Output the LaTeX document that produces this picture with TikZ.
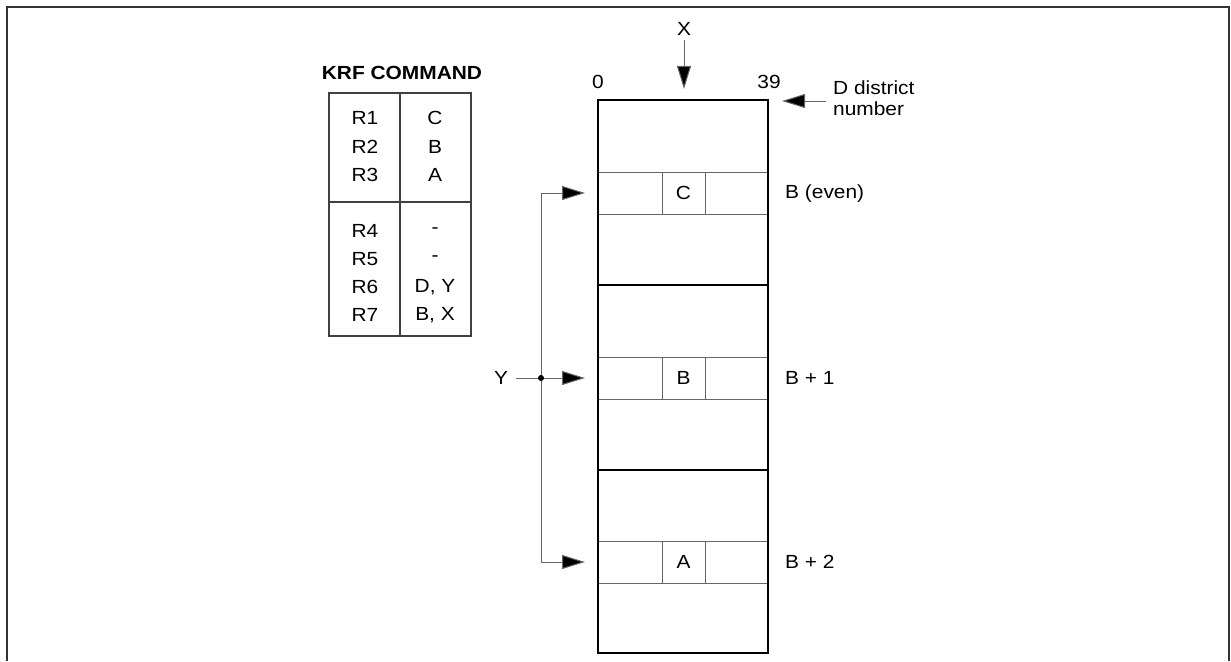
\documentclass[tikz,border=0pt]{standalone}
\usepackage{fontspec}
\setmainfont{Liberation Sans}[FakeStretch=1.1]
\usetikzlibrary{arrows.meta}
\begin{document}
\begin{tikzpicture}[x=1pt,y=-1pt,
  every node/.style={inner sep=0pt,font=\fontsize{19}{22}\selectfont},
  thinln/.style={draw=black!60,line width=1pt},
  thickln/.style={draw=black,line width=2.3pt},
  tbl/.style={draw=black!75,line width=1.4pt},
  arr/.style={draw=black!60,line width=1pt,-{Triangle[length=23pt,width=14pt,fill=black]}},
  cell/.style={minimum width=43pt,minimum height=42pt},
  lbl/.style={anchor=west}]
\useasboundingbox (0,0) rectangle (1231,661);
% outer frame
\draw[line width=1.5pt,black!80] (7,661) -- (7,7) -- (1229,7) -- (1229,661);

% KRF COMMAND table
\node[font=\fontsize{19}{22}\selectfont\bfseries] (title) at (402,73) {KRF COMMAND};
\draw[tbl] (329,93) rectangle (471,336);
\draw[tbl] (400,93) -- (400,336);
\draw[tbl] (329,202) -- (471,202);
\foreach \r/\v/\y in {R1/C/118,R2/B/147,R3/A/175,R4/-/231,R5/-/259,R6/{D, Y}/287,R7/{B, X}/315}{
  \node at (365,\y) {\r};
  \node at (435,\y) {\v};
}

% memory block
\draw[thinln] (598,172) -- (768,172) (598,214) -- (768,214);
\draw[thinln] (598,357) -- (768,357) (598,399) -- (768,399);
\draw[thinln] (598,541) -- (768,541) (598,583) -- (768,583);
\node[cell,thinln] (cC) at (683.5,193) {C};
\node[cell,thinln] (cB) at (683.5,378) {B};
\node[cell,thinln] (cA) at (683.5,562) {A};
\draw[thickln] (598,285) -- (768,285) (598,470) -- (768,470);
\draw[thickln] (598,100) rectangle (768,653);

% top labels
\node (zero) at (598,82) {0};
\node (n39) at (769,82) {39};
\node (X) at (684,29) {X};
\coordinate (xt) at (684,89);
\draw[arr] (X.south) ++(0,4) -- (xt);

\node[anchor=north west,align=left,font=\fontsize{19}{20.5}\selectfont] (D) at (833,81) {D district\\number};
\coordinate (ds) at (826,101);
\coordinate (dt) at (782,101);
\draw[arr] (ds) -- (dt);

% row labels
\node[lbl] (lb0) at (785,194) {B (even)};
\node[lbl] (lb1) at (785,378) {B + 1};
\node[lbl] (lb2) at (785,562) {B + 2};

% Y distribution
\node (Y) at (501,378) {Y};
\coordinate (j) at (541,378);
\coordinate (jt) at (541,193);
\coordinate (jb) at (541,562);
\coordinate (tC) at (585,193);
\coordinate (tB) at (585,378);
\coordinate (tA) at (585,562);
\draw[thinln] (Y.east) ++(8,0) -- (j);
\draw[thinln] (jt) -- (jb);
\draw[arr] (j) -- (tB);
\draw[arr] (jt) -- (tC);
\draw[arr] (jb) -- (tA);
\fill (j) circle (3pt);
\end{tikzpicture}
\end{document}
